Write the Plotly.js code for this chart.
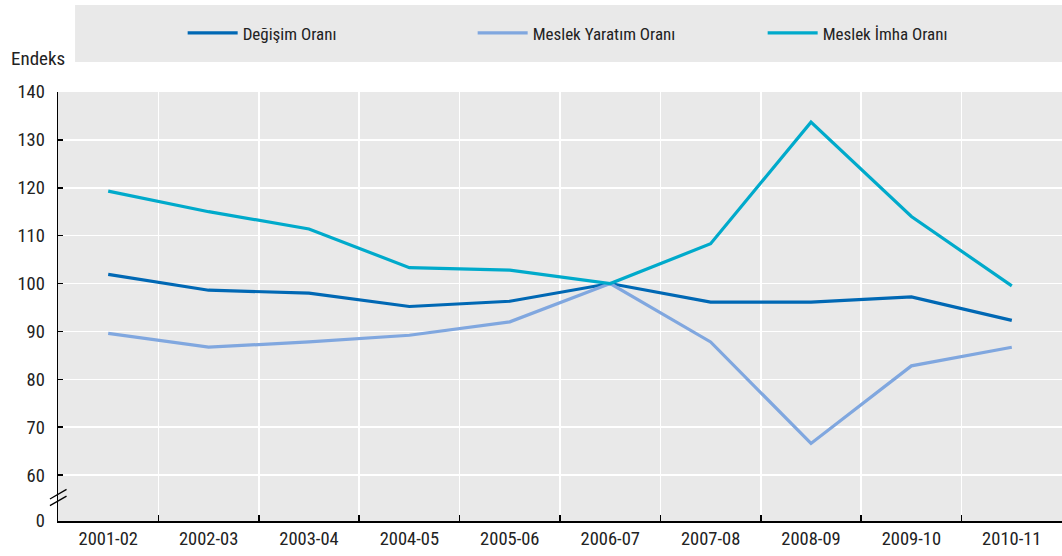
<!DOCTYPE html>
<html>
<head>
<meta charset="utf-8">
<script src="https://cdn.plot.ly/plotly-3.0.1.min.js"></script>
<style>html,body{margin:0;padding:0;background:#fff;}#chart{width:1062px;height:556px;}</style>
</head>
<body>
<div id="chart"></div>
<script>
const categories = ["2001-02","2002-03","2003-04","2004-05","2005-06","2006-07","2007-08","2008-09","2009-10","2010-11"];
const degisim = [101.9, 98.6, 98.0, 95.2, 96.3, 100.0, 96.1, 96.1, 97.2, 92.3];
const yaratim = [89.6, 86.7, 87.8, 89.2, 92.0, 100.0, 87.8, 66.6, 82.8, 86.7];
const imha = [119.3, 115.0, 111.4, 103.3, 102.8, 100.0, 108.3, 133.7, 114.0, 99.5];
const seriesNames = ["Değişim Oranı", "Meslek Yaratım Oranı", "Meslek İmha Oranı"];
const tickVals = [50.4, 60, 70, 80, 90, 100, 110, 120, 130, 140];
const tickText = ["0", "60", "70", "80", "90", "100", "110", "120", "130", "140"];

const FONT = "'Liberation Sans Narrow', 'Arial Narrow', 'Roboto Condensed', 'Liberation Sans', Arial, sans-serif";

const traces = [
  {x: categories, y: degisim, name: seriesNames[0], type: "scatter", mode: "lines", line: {color: "#0068B4", width: 3.2}},
  {x: categories, y: yaratim, name: seriesNames[1], type: "scatter", mode: "lines", line: {color: "#80A7DF", width: 3.2}},
  {x: categories, y: imha, name: seriesNames[2], type: "scatter", mode: "lines", line: {color: "#00AACB", width: 3.2}}
];

const layout = {
  width: 1062, height: 556,
  margin: {l: 58, r: 0, t: 92, b: 35},
  paper_bgcolor: "#ffffff",
  plot_bgcolor: "#e9e9e9",
  font: {family: FONT, size: 18, color: "#222"},
  showlegend: true,
  legend: {
    orientation: "h",
    xref: "container", yref: "container",
    x: 0.172, y: 0.94, xanchor: "left", yanchor: "middle",
    bgcolor: "rgba(0,0,0,0)",
    font: {family: FONT, size: 17, color: "#222"},
    entrywidth: 225, entrywidthmode: "pixels",
    itemwidth: 50
  },
  xaxis: {
    type: "category",
    tickson: "boundaries",
    showgrid: true, gridcolor: "#ffffff", gridwidth: 1.5,
    showline: true, linecolor: "#000", linewidth: 1.5,
    ticks: "inside", ticklen: 6, tickcolor: "#000", tickwidth: 1.5,
    tickfont: {family: FONT, size: 18.5, color: "#222"},
    range: [-0.5, 9.5],
    fixedrange: true
  },
  yaxis: {
    range: [50.4, 140],
    tickvals: tickVals, ticktext: tickText,
    showgrid: true, gridcolor: "#ffffff", gridwidth: 1.5,
    zeroline: false,
    showline: true, linecolor: "#000", linewidth: 1.5,
    ticks: "inside", ticklen: 5, tickcolor: "#000", tickwidth: 1.5,
    tickfont: {family: FONT, size: 18.5, color: "#222"},
    ticklabelstandoff: 8,
    fixedrange: true
  },
  shapes: [
    {type: "rect", xref: "paper", yref: "paper", x0: 0.017, x1: 1.0, y0: 1.07, y1: 1.203, fillcolor: "#e9e9e9", line: {width: 0}, layer: "below"},
    {type: "line", xref: "paper", yref: "y", x0: -0.008, x1: 0.0085, y0: 53.6, y1: 55.6, line: {color: "#000", width: 1.3}},
    {type: "line", xref: "paper", yref: "y", x0: -0.008, x1: 0.0085, y0: 55.0, y1: 57.0, line: {color: "#000", width: 1.3}}
  ],
  annotations: [
    {text: "Endeks", xref: "paper", yref: "paper", x: -0.0488, y: 1.079, xanchor: "left", yanchor: "middle", showarrow: false, font: {family: FONT, size: 19, color: "#222"}}
  ]
};

Plotly.newPlot("chart", traces, layout, {displayModeBar: false, staticPlot: true});
</script>
</body>
</html>
